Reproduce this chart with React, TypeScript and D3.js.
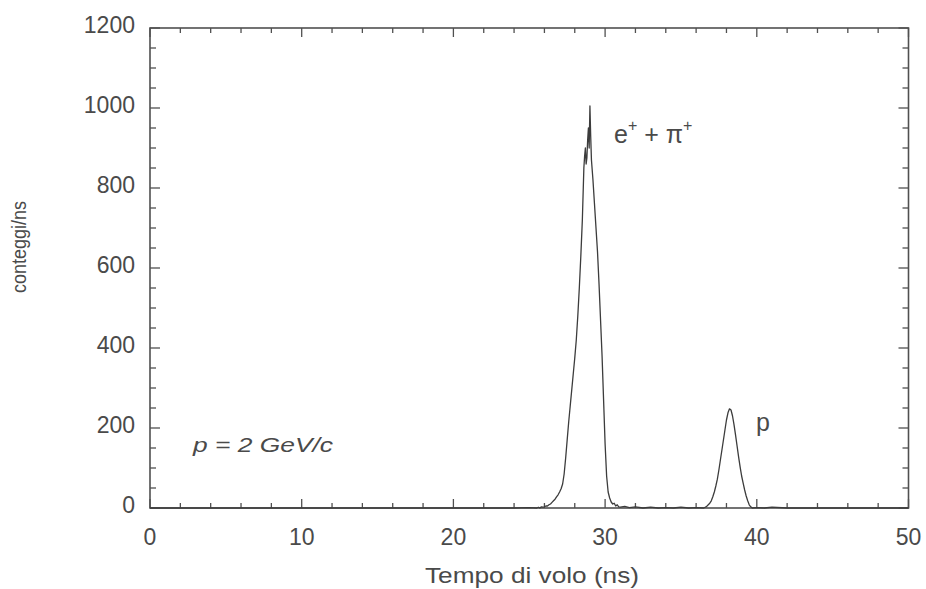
import React from "react";
import * as d3 from "d3";

// Time-of-flight spectrum: [time (ns), counts/ns]
const baselineLeft: [number, number][] = [
  [0, 0], [5, 0], [10, 0], [15, 0], [20, 0], [24, 0], [25, 1], [25.5, 0], [25.6, 2], [25.7, 0], [25.8, 3], [25.9, 2],
];
const peakPionTimes = [
  26.0, 26.1, 26.2, 26.3, 26.4, 26.5, 26.6, 26.7, 26.8, 26.9,
  27.0, 27.1, 27.2, 27.3, 27.4, 27.5, 27.6, 27.7, 27.8, 27.9,
  28.0, 28.1, 28.2, 28.3, 28.4, 28.5, 28.6, 28.65, 28.7, 28.75, 28.8, 28.85, 28.9, 28.95,
  29.0, 29.05, 29.1, 29.2, 29.3, 29.4, 29.5, 29.6, 29.7, 29.8, 29.9,
  30.0, 30.1, 30.2, 30.3, 30.4, 30.5, 30.6, 30.7, 30.8, 30.9, 31.0,
];
const peakPionCounts = [
  3, 5, 5, 8, 10, 14, 18, 22, 28, 33,
  40, 48, 60, 85, 125, 170, 215, 255, 295, 335,
  375, 420, 480, 550, 630, 720, 850, 880, 900, 860, 875, 920, 950, 900,
  1005, 930, 870, 820, 760, 700, 640, 560, 470, 380, 270,
  160, 80, 40, 25, 15, 10, 12, 5, 8, 3, 2,
];
const baselineMiddle: [number, number][] = [
  [31.3, 4], [31.6, 1], [32.0, 3], [32.5, 0], [33.0, 2], [33.5, 0], [34.0, 1], [34.5, 0], [35.0, 2], [35.5, 0], [36.0, 1], [36.5, 0],
];
const peakProtonTimes = [
  36.6, 36.7, 36.8, 36.9, 37.0, 37.1, 37.2, 37.3, 37.4, 37.5, 37.6, 37.7, 37.8, 37.9,
  38.0, 38.1, 38.2, 38.3, 38.4, 38.5, 38.6, 38.7, 38.8, 38.9, 39.0, 39.1, 39.2, 39.3, 39.4, 39.5, 39.6, 39.7,
];
const peakProtonCounts = [
  2, 4, 8, 12, 18, 28, 40, 55, 72, 95, 120, 145, 170, 195,
  220, 238, 248, 245, 230, 208, 182, 155, 128, 103, 80, 62, 45, 30, 18, 8, 3, 0,
];
const baselineRight: [number, number][] = [
  [40.0, 1], [40.5, 0], [41.0, 2], [42.0, 0], [45, 0], [50, 0],
];

const xTicks = [0, 10, 20, 30, 40, 50];
const yTicks = [0, 200, 400, 600, 800, 1000, 1200];
const xTitle = "Tempo di volo (ns)";
const yTitle = "conteggi/ns";

const spectrum: [number, number][] = [
  ...baselineLeft,
  ...peakPionTimes.map((t, i) => [t, peakPionCounts[i]] as [number, number]),
  ...baselineMiddle,
  ...peakProtonTimes.map((t, i) => [t, peakProtonCounts[i]] as [number, number]),
  ...baselineRight,
];

export default function App() {
  const W = 926, H = 589;
  const x = d3.scaleLinear().domain([0, 50]).range([150, 908.5]);
  const y = d3.scaleLinear().domain([0, 1200]).range([508, 28]);
  const line = d3.line<[number, number]>().x((d) => x(d[0])).y((d) => y(d[1]));
  const axisColor = "#505050";
  const textColor = "#4a4a4a";
  const font = "'Liberation Sans', Arial, sans-serif";
  const [x0, x1] = x.range();
  const [y0, y1] = y.range();
  const xMinor = d3.range(0, 50.001, 2);
  const yMinor = d3.range(0, 1200.001, 50);

  return (
    <svg width={W} height={H} style={{ position: "absolute", left: 0, top: 0, background: "#fff" }}>
      <rect x={0} y={0} width={W} height={H} fill="#fff" />
      {/* ticks */}
      <g stroke={axisColor} strokeWidth={1.3}>
        {xMinor.map((v) => {
          const major = v % 10 === 0;
          const L = major ? 9 : 5;
          return (
            <g key={"xt" + v}>
              <line x1={x(v)} x2={x(v)} y1={y0} y2={y0 - L} />
              <line x1={x(v)} x2={x(v)} y1={y1} y2={y1 + L} />
            </g>
          );
        })}
        {yMinor.map((v) => {
          const major = v % 200 === 0;
          const L = major ? 10 : 6;
          return (
            <g key={"yt" + v}>
              <line x1={x0} x2={x0 + L} y1={y(v)} y2={y(v)} />
              <line x1={x1} x2={x1 - L} y1={y(v)} y2={y(v)} />
            </g>
          );
        })}
      </g>
      <rect x={x0} y={y1} width={x1 - x0} height={y0 - y1} fill="none" stroke={axisColor} strokeWidth={1.6} />
      <path d={line(spectrum) || ""} fill="none" stroke="#3c3c3c" strokeWidth={1.3} strokeLinejoin="round" />
      {/* tick labels */}
      <g fill={textColor} fontFamily={font} fontSize={23}>
        {xTicks.map((v) => (
          <text key={"xl" + v} x={x(v)} y={545} textAnchor="middle">{v}</text>
        ))}
        {yTicks.map((v) => (
          <text key={"yl" + v} x={135} y={y(v) + 4.5} textAnchor="end">{v}</text>
        ))}
      </g>
      <text x={532} y={583} textAnchor="middle" fill={textColor} fontFamily={font} fontSize={22}
        textLength={214} lengthAdjust="spacingAndGlyphs">{xTitle}</text>
      <text transform="translate(26,247) rotate(-90)" textAnchor="middle" fill={textColor} fontFamily={font}
        fontSize={20} textLength={92} lengthAdjust="spacingAndGlyphs">{yTitle}</text>
      <text x={193} y={452} fill={textColor} fontFamily={font} fontSize={21} fontStyle="italic"
        textLength={140} lengthAdjust="spacingAndGlyphs">p = 2 GeV/c</text>
      <text x={614} y={143} fill={textColor} fontFamily={font} fontSize={25}>
        e<tspan fontSize={16} dy={-12}>+</tspan><tspan dy={12}> + π</tspan><tspan fontSize={16} dy={-12}>+</tspan>
      </text>
      <text x={756} y={431} fill={textColor} fontFamily={font} fontSize={25}>p</text>
    </svg>
  );
}
